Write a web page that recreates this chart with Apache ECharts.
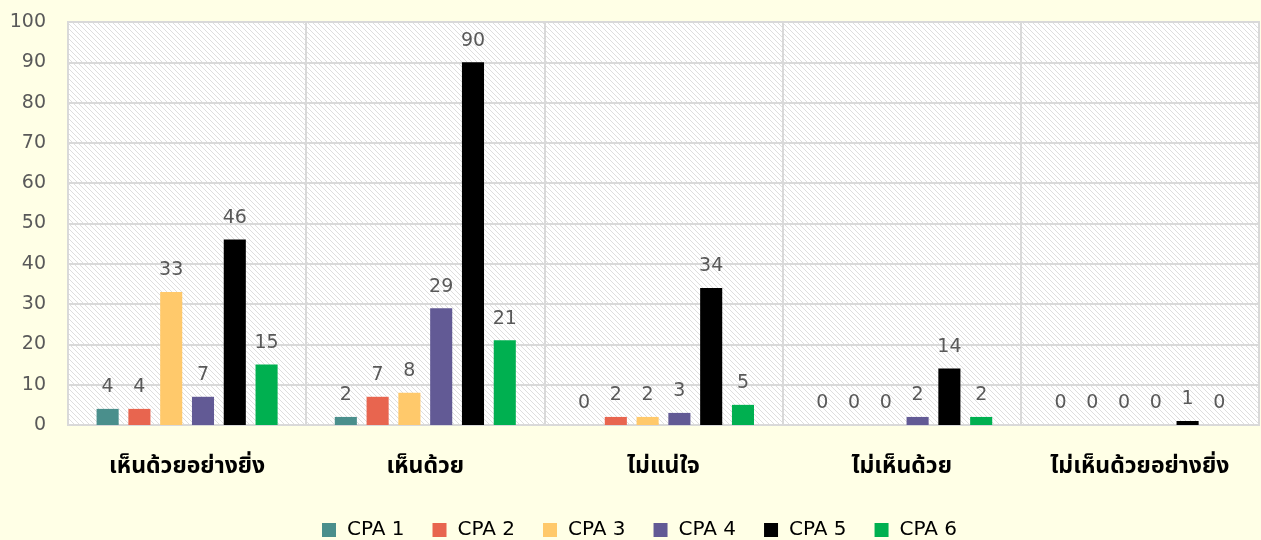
<!DOCTYPE html>
<html>
<head>
<meta charset="utf-8">
<script src="https://cdn.jsdelivr.net/npm/echarts@6/dist/echarts.min.js"></script>
<style>
  html, body { margin: 0; padding: 0; background: #FFFFE6; }
  #myChart { width: 1261px; height: 540px; }
</style>
</head>
<body>
<div id="myChart"></div>
<script>
// categories (ระดับความคิดเห็น)
var categories = ["เห็นด้วยอย่างยิ่ง", "เห็นด้วย", "ไม่แน่ใจ", "ไม่เห็นด้วย", "ไม่เห็นด้วยอย่างยิ่ง"];
var seriesNames = ["CPA 1", "CPA 2", "CPA 3", "CPA 4", "CPA 5", "CPA 6"];
var cpa1 = [4, 2, 0, 0, 0];
var cpa2 = [4, 7, 2, 0, 0];
var cpa3 = [33, 8, 2, 0, 0];
var cpa4 = [7, 29, 3, 2, 0];
var cpa5 = [46, 90, 34, 14, 1];
var cpa6 = [15, 21, 5, 2, 0];
var colors = ["#4A8F8C", "#E8654F", "#FFC96B", "#625A95", "#000000", "#00B050"];

// ลายเส้นทแยงพื้นหลัง
function makeHatch() {
  var n = 10;
  var c = document.createElement("canvas");
  c.width = n; c.height = n;
  var ctx = c.getContext("2d");
  ctx.fillStyle = "#ffffff";
  ctx.fillRect(0, 0, n, n);
  ctx.fillStyle = "#dedede";
  for (var i = 0; i < n; i++) {
    ctx.fillRect(i, i, 1, 1);
    ctx.fillRect((i + 5) % n, i, 1, 1);
  }
  return c;
}

var allData = [cpa1, cpa2, cpa3, cpa4, cpa5, cpa6];
var series = allData.map(function (d, i) {
  return {
    name: seriesNames[i],
    type: "bar",
    data: d,
    barGap: "44%",
    barCategoryGap: "24%",
    itemStyle: { color: colors[i] },
    label: {
      show: true,
      position: "top",
      distance: 12,
      color: "#595959",
      fontSize: 19,
      fontFamily: "DejaVu Sans"
    }
  };
});

var myChart = echarts.init(document.getElementById("myChart"));
myChart.setOption({
  backgroundColor: "#FFFFE6",
  animation: false,
  color: colors,
  grid: {
    left: 68, right: 2, top: 22, bottom: 115,
    show: true,
    backgroundColor: { image: makeHatch(), repeat: "repeat" },
    borderColor: "#d9d9d9",
    borderWidth: 2
  },
  legend: {
    data: seriesNames,
    top: 515,
    left: 317,
    itemWidth: 14,
    itemHeight: 14,
    itemGap: 28,
    icon: "rect",
    textStyle: { color: "#000", fontSize: 20, fontFamily: "DejaVu Sans", padding: [0, 0, 0, 6] }
  },
  xAxis: {
    type: "category",
    data: categories,
    axisLine: { lineStyle: { color: "#d9d9d9", width: 2 } },
    axisTick: { show: false },
    splitLine: { show: true, lineStyle: { color: "#d9d9d9", width: 2 } },
    axisLabel: {
      color: "#000",
      fontWeight: "bold",
      fontSize: 23,
      margin: 32,
      fontFamily: "Tahoma, Noto Sans Thai, DejaVu Sans, sans-serif"
    }
  },
  yAxis: {
    type: "value",
    min: 0,
    max: 100,
    interval: 10,
    axisLine: { show: false },
    axisTick: { show: false },
    splitLine: { lineStyle: { color: "#d9d9d9", width: 2 } },
    axisLabel: { color: "#595959", fontSize: 19, margin: 22, fontFamily: "DejaVu Sans" }
  },
  series: series
});
</script>
</body>
</html>
